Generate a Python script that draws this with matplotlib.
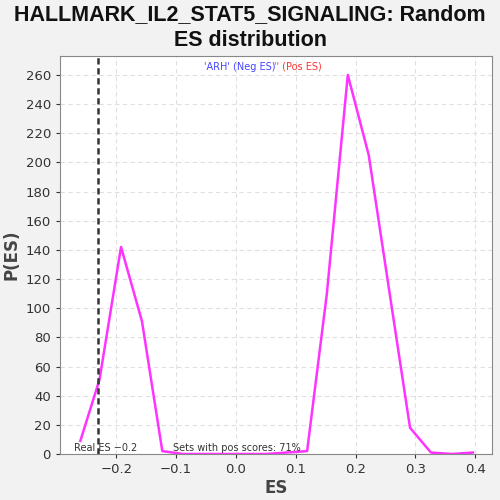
import matplotlib
matplotlib.use("Agg")
import matplotlib.pyplot as plt
import numpy as np

# random ES distribution
es = [-0.260, -0.228, -0.192, -0.157, -0.123, -0.088, -0.053, -0.019,
      0.016, 0.050, 0.085, 0.119, 0.152, 0.187, 0.222, 0.257, 0.291,
      0.326, 0.361, 0.396]
p_es = [9, 51, 142, 91, 2, 0, 0, 0,
        0, 0, 1, 2, 110, 260, 205, 110, 18,
        1, 0, 1]
real_es = -0.23
pos_pct = 71

fig = plt.figure(figsize=(5, 5), dpi=100, facecolor="#f2f2f2")
ax = fig.add_axes([0.12, 0.092, 0.864, 0.796])
ax.set_facecolor("white")

ax.plot(es, p_es, color="#ff33ff", lw=1.8)
ax.axvline(real_es, color="#333333", ls=(0, (2.5, 1.5)), lw=1.8)

ax.set_xlim(-0.294, 0.428)
ax.set_ylim(0, 273)
ax.set_xticks([-0.2, -0.1, 0.0, 0.1, 0.2, 0.3, 0.4])
ax.set_yticks(np.arange(0, 261, 20))
ax.grid(True, color="#e0e0e0", ls=(0, (4, 3)), lw=0.8)
ax.set_axisbelow(True)
for s in ax.spines.values():
    s.set_color("#888888")
ax.tick_params(labelsize=9.5, colors="#333333", length=3)

ax.set_xlabel("ES", fontsize=12, fontweight="bold", color="#444444", labelpad=2)
ax.set_ylabel("P(ES)", fontsize=12, fontweight="bold", color="#444444")
ax.yaxis.set_label_coords(-0.092, 0.5)
fig.suptitle("HALLMARK_IL2_STAT5_SIGNALING: Random\nES distribution",
             fontsize=15.5, fontweight="bold", y=0.992, color="#111111",
             family="Liberation Sans", linespacing=1.3)

ax.text(-0.27, 0.5, "Real ES \u22120.2", fontsize=7, color="#333333", va="bottom")
ax.text(-0.105, 0.5, "Sets with pos scores: %d%%" % pos_pct, fontsize=7,
        color="#333333", va="bottom")

ax.text(0.498, 0.985, "'ARH' (Neg ES)", transform=ax.transAxes, fontsize=7,
        color="#4444ff", ha="right", va="top")
ax.text(0.496, 0.985, "'' (Pos ES)", transform=ax.transAxes, fontsize=7,
        color="#ff3333", ha="left", va="top")

fig.savefig("out.png", dpi=100, facecolor=fig.get_facecolor())
